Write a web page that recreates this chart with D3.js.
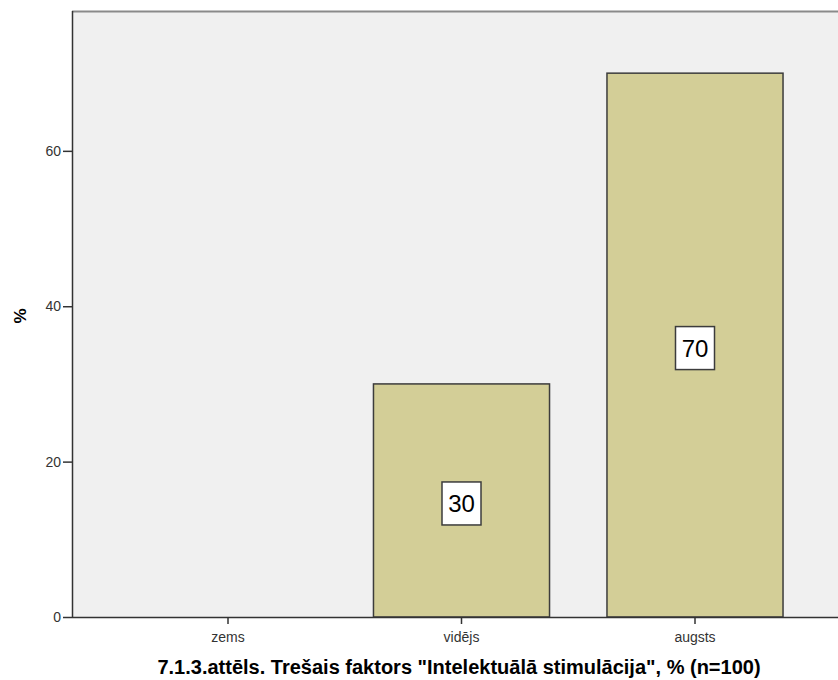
<!DOCTYPE html>
<html>
<head>
<meta charset="utf-8">
<script src="https://cdn.jsdelivr.net/npm/d3@7"></script>
<style>
  body { margin: 0; background: #fff; }
  text { font-family: "Liberation Sans", Arial, sans-serif; }
</style>
</head>
<body>
<svg id="chart"></svg>
<script>
var categories = ["zems", "vidējs", "augsts"];
var percents = [0, 30, 70];
var yTicks = [0, 20, 40, 60];
var title = "7.1.3.attēls. Trešais faktors \"Intelektuālā stimulācija\", % (n=100)";

var width = 838, height = 680;
var plot = {left: 72, top: 11, bottom: 617, right: 838};

var svg = d3.select("#chart")
    .attr("width", width)
    .attr("height", height);

var x = d3.scaleBand()
    .domain(categories)
    .range([111.25, 811.75])
    .paddingInner(0.246)
    .paddingOuter(0.123);

var y = d3.scaleLinear()
    .domain([0, 78])
    .range([plot.bottom, plot.top]);

// plot background
svg.append("rect")
    .attr("x", plot.left)
    .attr("y", plot.top)
    .attr("width", plot.right - plot.left)
    .attr("height", plot.bottom - plot.top)
    .attr("fill", "#f0f0f0");

svg.append("line")
    .attr("x1", plot.left).attr("x2", plot.right)
    .attr("y1", plot.top + 0.5).attr("y2", plot.top + 0.5)
    .attr("stroke", "#8a8a8a")
    .attr("stroke-width", 2);

// bars
var data = categories.map(function(c, i) { return {cat: c, value: percents[i]}; });

svg.append("g")
    .selectAll("rect")
    .data(data.filter(function(d) { return d.value > 0; }))
    .enter()
    .append("rect")
      .attr("x", function(d) { return x(d.cat); })
      .attr("y", function(d) { return y(d.value); })
      .attr("width", x.bandwidth())
      .attr("height", function(d) { return y(0) - y(d.value); })
      .attr("fill", "#d3ce97")
      .attr("stroke", "#3c3c3c")
      .attr("stroke-width", 1.5);

// value labels
var labels = svg.append("g")
    .selectAll("g")
    .data(data.filter(function(d) { return d.value > 0; }))
    .enter()
    .append("g")
      .attr("transform", function(d) {
        var cx = x(d.cat) + x.bandwidth() / 2;
        var cy = (y(d.value) + y(0)) / 2 + 3;
        return "translate(" + cx + "," + cy + ")";
      });

labels.append("rect")
    .attr("x", -19.5)
    .attr("y", -21.5)
    .attr("width", 39)
    .attr("height", 43)
    .attr("fill", "#fff")
    .attr("stroke", "#3c3c3c")
    .attr("stroke-width", 1.5);

labels.append("text")
    .attr("text-anchor", "middle")
    .attr("dy", "0.36em")
    .style("font-size", "24px")
    .style("fill", "#000")
    .text(function(d) { return d.value; });

// axes
var yAxis = svg.append("g")
    .attr("transform", "translate(" + plot.left + ",0)")
    .call(d3.axisLeft(y).tickValues(yTicks).tickSize(9).tickPadding(2));

var xAxis = svg.append("g")
    .attr("transform", "translate(0," + plot.bottom + ")")
    .call(d3.axisBottom(x).tickSize(7).tickPadding(8));

xAxis.select(".domain")
    .attr("d", "M" + plot.left + ",0.5H" + plot.right);

[xAxis, yAxis].forEach(function(ax) {
  ax.select(".domain").attr("stroke", "#333").attr("stroke-width", 1.5);
  ax.selectAll(".tick line").attr("stroke", "#333").attr("stroke-width", 1.5);
  ax.selectAll(".tick text")
    .style("font-size", "14px")
    .style("fill", "#333")
    .style("font-family", "\"Liberation Sans\", Arial, sans-serif");
});

yAxis.select(".domain")
    .attr("d", "M0.5," + plot.bottom + "V" + plot.top);

// y axis title
svg.append("text")
    .attr("transform", "translate(26," + 316 + ") rotate(-90)")
    .attr("text-anchor", "middle")
    .style("font-size", "17px")
    .style("font-weight", "bold")
    .text("%");

// chart title
svg.append("text")
    .attr("x", 459)
    .attr("y", 674)
    .attr("text-anchor", "middle")
    .style("font-size", "20px")
    .style("font-weight", "bold")
    .text(title);
</script>
</body>
</html>
